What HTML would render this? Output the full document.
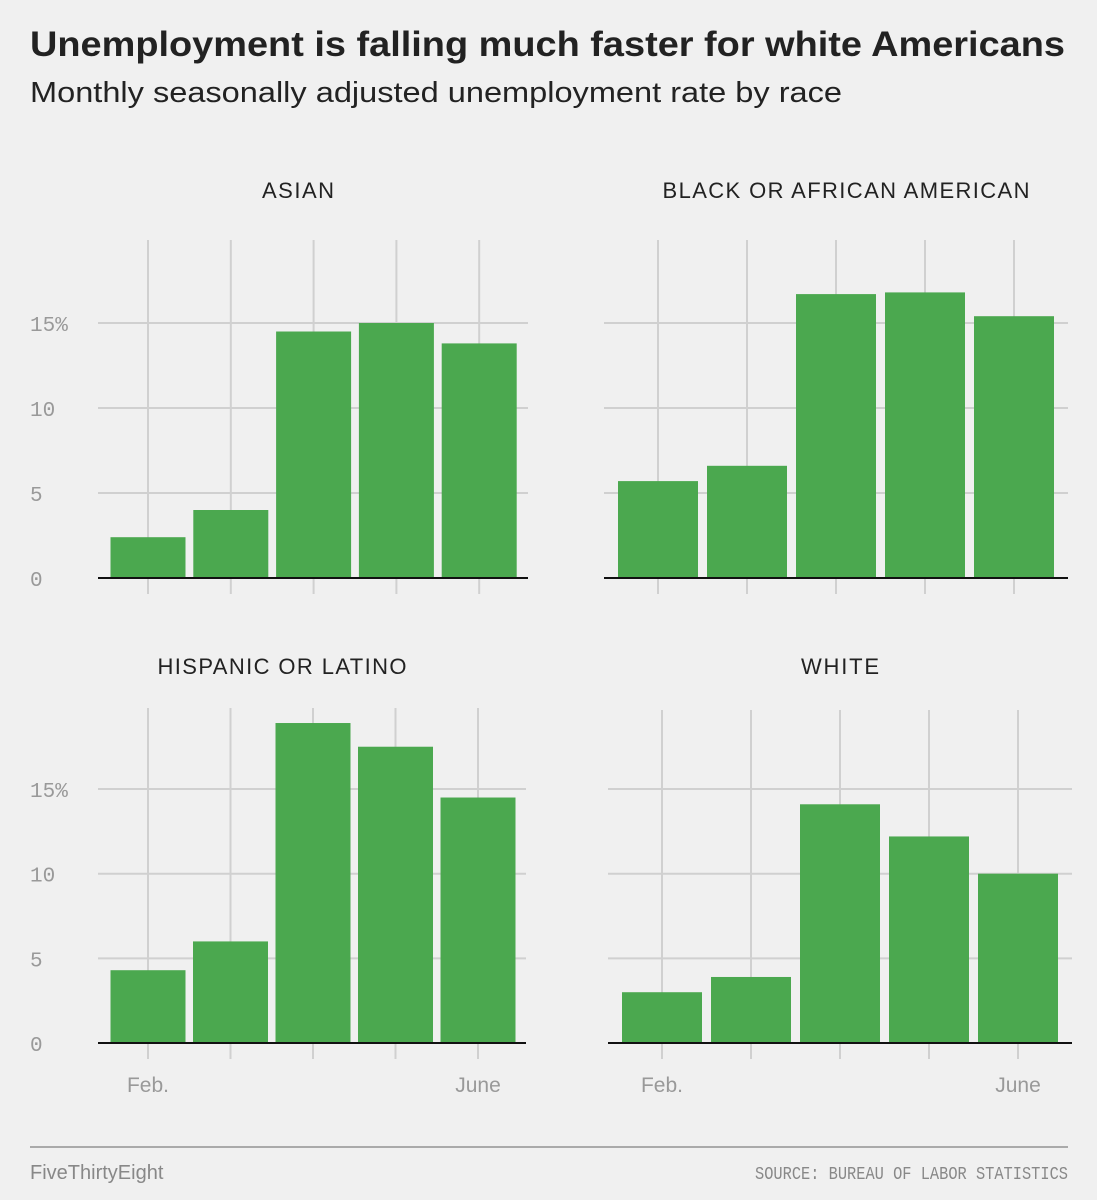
<!DOCTYPE html>
<html><head><meta charset="utf-8"><style>
body{margin:0;background:#f0f0f0;width:1097px;height:1200px;overflow:hidden;font-family:"Liberation Sans",sans-serif}
svg{position:absolute;left:0;top:0}
</style></head><body>
<svg width="1097" height="1200">
<text x="30" y="56" font-size="35" font-weight="bold" fill="#222" textLength="1035" lengthAdjust="spacingAndGlyphs">Unemployment is falling much faster for white Americans</text>
<text x="30" y="102" font-size="29" fill="#222" textLength="812" lengthAdjust="spacingAndGlyphs">Monthly seasonally adjusted unemployment rate by race</text>
<g id="panels"></g>
<line x1="30" x2="1068" y1="1147" y2="1147" stroke="#aaa" stroke-width="2"/>
<text x="30" y="1179" font-size="20" fill="#888">FiveThirtyEight</text>
<text x="1068" y="1179" font-size="18" fill="#888" text-anchor="end" textLength="313" lengthAdjust="spacingAndGlyphs" font-family="Liberation Mono, monospace">SOURCE: BUREAU OF LABOR STATISTICS</text>
</svg>
<script>
const months=["Feb.","Mar.","Apr.","May","June"];
const asian=[2.4,4.0,14.5,15.0,13.8];
const black=[5.7,6.6,16.7,16.8,15.4];
const hispanic=[4.3,6.0,18.9,17.5,14.5];
const white=[3.0,3.9,14.1,12.2,10.0];
const yTicks=[0,5,10,15];
const yTickLabels=["0","5","10","15%"];
const panelTitles=["ASIAN","BLACK OR AFRICAN AMERICAN","HISPANIC OR LATINO","WHITE"];
const NS="http://www.w3.org/2000/svg";
const g=document.getElementById('panels');
function el(t,a,p){const e=document.createElementNS(NS,t);for(const k in a)e.setAttribute(k,a[k]);(p||g).appendChild(e);return e;}
const panels=[
 {data:asian,x0:98,x1:528,c0:148,step:82.8,bw:75,zero:578,ppu:17,top:240,ylab:true,xlab:false,title:298,ty:198,tl:72},
 {data:black,x0:604,x1:1068,c0:658,step:89,bw:80,zero:578,ppu:17,top:240,ylab:false,xlab:false,title:846,ty:198,tl:367},
 {data:hispanic,x0:98,x1:526,c0:148,step:82.5,bw:75,zero:1043,ppu:16.93,top:708,ylab:true,xlab:true,title:282,ty:674,tl:249},
 {data:white,x0:608,x1:1072,c0:662,step:89,bw:80,zero:1043,ppu:16.93,top:710,ylab:false,xlab:true,title:840,ty:674,tl:78}];
panels.forEach((p,pi)=>{
 const y=v=>p.zero-v*p.ppu, x=i=>p.c0+i*p.step;
 const t=el('text',{x:p.title,y:p.ty,'font-size':22,fill:'#222','text-anchor':'middle',textLength:p.tl,lengthAdjust:'spacing'});t.textContent=panelTitles[pi];
 
 
 months.forEach((m,i)=>{const l=el('line',{x1:x(i),x2:x(i),y1:p.top,y2:p.zero+16,stroke:'#d0d0d0','stroke-width':2});
  
  });
 yTicks.forEach((v,i)=>{if(v>0){const l=el('line',{x1:p.x0,x2:p.x1,y1:y(v),y2:y(v),stroke:'#d0d0d0','stroke-width':2});
  
  }
  if(p.ylab){const tt=el('text',{x:30,y:y(v)+8,'font-size':21,fill:'#999','font-family':'Liberation Mono, monospace'});tt.textContent=yTickLabels[i];
  
  }});
 p.data.forEach((v,i)=>{const r=el('rect',{x:x(i)-p.bw/2,y:y(v),width:p.bw,height:v*p.ppu,fill:'#4ba84f'});
  
  });
 const b=el('line',{x1:p.x0,x2:p.x1,y1:p.zero,y2:p.zero,stroke:'#111','stroke-width':2});
 
 
 if(p.xlab){[0,4].forEach(i=>{const tt=el('text',{x:x(i),y:1092,'font-size':21,fill:'#999','text-anchor':'middle'});tt.textContent=months[i];
  
  });}
});
</script>
</body></html>
